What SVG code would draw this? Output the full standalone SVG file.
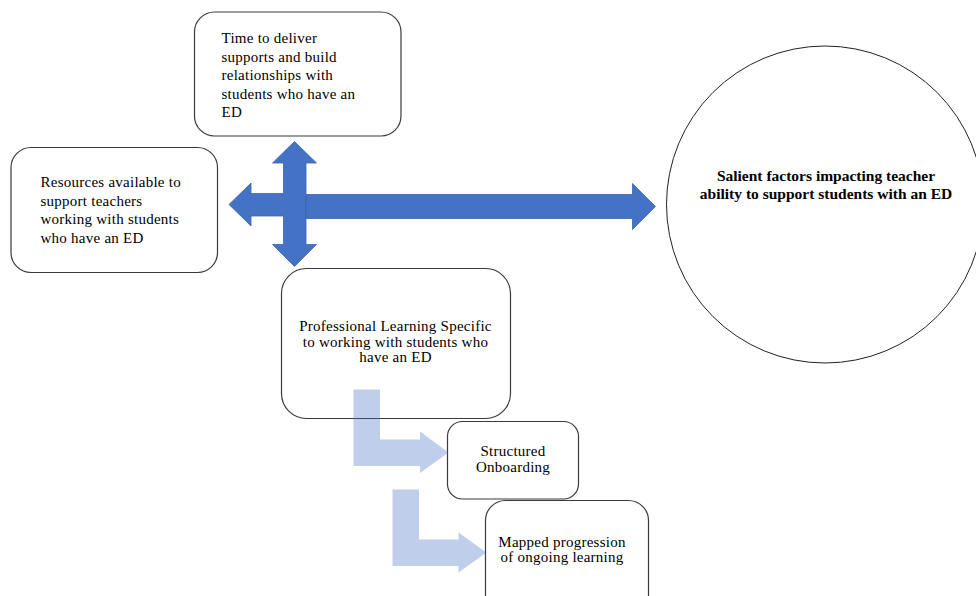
<svg xmlns="http://www.w3.org/2000/svg" width="976" height="596" viewBox="0 0 976 596">
<style>
.box{fill:#ffffff;stroke:#3a3a3a;stroke-width:1.2}
text{font-family:'Liberation Serif','Times New Roman',serif;font-size:15px;fill:#000;letter-spacing:0.25px}
.c{text-anchor:middle}
.b{font-weight:bold;font-size:15.5px;letter-spacing:0}
.blue{fill:#4472C4;stroke:#3B63AE;stroke-width:0.8}
.light{fill:#4472C4;fill-opacity:0.34}
</style>
<rect width="976" height="596" fill="#ffffff"/>
<g id="node-time">
<rect class="box" x="194.5" y="12" width="206.5" height="124" rx="20"/>
<text x="221.5" y="43">Time to deliver</text>
<text x="221.5" y="61.5">supports and build</text>
<text x="221.5" y="80">relationships with</text>
<text x="221.5" y="98.5">students who have an</text>
<text x="221.5" y="117">ED</text>
</g>
<g id="node-resources">
<rect class="box" x="11" y="147.5" width="206.5" height="125" rx="20"/>
<text x="40.5" y="187">Resources available to</text>
<text x="40.5" y="205.5">support teachers</text>
<text x="40.5" y="224">working with students</text>
<text x="40.5" y="242.5">who have an ED</text>
</g>
<g id="node-professional">
<rect class="box" x="281.5" y="268.5" width="229" height="150" rx="25"/>
<text class="c" x="395.5" y="331">Professional Learning Specific</text>
<text class="c" x="395.5" y="346.5">to working with students who</text>
<text class="c" x="395.5" y="362">have an ED</text>
</g>
<g id="node-onboarding">
<rect class="box" x="447.5" y="421.5" width="131" height="77.5" rx="15"/>
<text class="c" x="513" y="455.5">Structured</text>
<text class="c" x="513" y="472">Onboarding</text>
</g>
<g id="node-mapped">
<rect class="box" x="485.5" y="500.5" width="163" height="130" rx="20"/>
<text class="c" x="562" y="546.5">Mapped progression</text>
<text class="c" x="562" y="562">of ongoing learning</text>
</g>
<g id="node-salient">
<circle cx="825" cy="204.5" r="158.5" fill="#ffffff" stroke="#222" stroke-width="1"/>
<text class="c b" x="826" y="181">Salient factors impacting teacher</text>
<text class="c b" x="826" y="199">ability to support students with an ED</text>
</g>
<g id="connectors">
<polygon class="blue" points="229,204.5 251,183 251,193.5 283.5,193.5 283.5,163 272.5,163 294.5,141.5 316.5,163 306,163 306,244.5 316.5,244.5 294.5,266.5 272.5,244.5 283.5,244.5 283.5,216 251,216 251,226"/>
<polygon class="blue" points="306,194.5 632.5,194.5 632.5,183.5 655.5,206.5 632.5,229.5 632.5,218.5 306,218.5"/>
<polygon class="light" points="353.5,389.5 380,389.5 380,439.5 420,439.5 420,431.5 448.5,452.5 420,473 420,466 353.5,466"/>
<polygon class="light" points="392.5,489.5 419,489.5 419,539.5 458.5,539.5 458.5,532.5 486.5,552.5 458.5,572.5 458.5,566 392.5,566"/>
</g>
</svg>
